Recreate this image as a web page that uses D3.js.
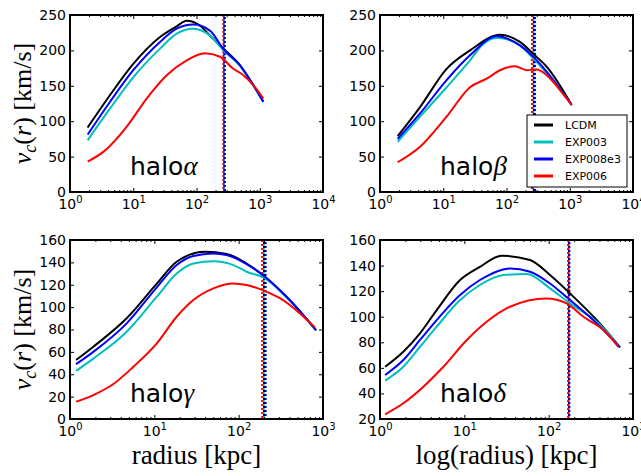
<!DOCTYPE html>
<html>
<head>
<meta charset="utf-8">
<script src="https://cdn.jsdelivr.net/npm/d3@7"></script>
<style>
  body { margin: 0; background: #fff; }
</style>
</head>
<body>
<svg id="chart" width="641" height="476" font-family="DejaVu Sans, sans-serif"></svg>
<script>
'use strict';

// series: [radius (kpc), v_c (km/s)]
const models = ['LCDM', 'EXP003', 'EXP008e3', 'EXP006'];
const colors = ['#000000', '#00bfbf', '#0000ff', '#ff0000'];

const alphaLCDM = [[1.9, 91], [4.3, 137], [10, 181], [26.5, 219], [48.6, 234], [70, 242], [114, 235], [163, 221], [266, 202.5], [488, 179], [791, 151], [1138, 127.5]];
const alphaEXP003 = [[1.9, 73], [4.3, 118], [10, 162], [26.5, 202.5], [48.6, 223.6], [89, 230.6], [163, 221], [266, 200], [488, 178], [791, 150], [1138, 127]];
const alphaEXP008e3 = [[1.9, 81], [4.3, 127.5], [10, 172], [26.5, 212], [48.6, 230.6], [89, 236.7], [163, 228], [266, 202], [488, 179], [791, 151], [1138, 127.5]];
const alphaEXP006 = [[1.9, 43], [3.4, 57], [7.9, 92.5], [16.3, 132], [33.8, 165], [70, 186], [136, 196], [235, 191], [382, 174], [550, 165], [791, 151], [1138, 132]];
const alphaRvir = [275, 272, 281, 266];

const betaLCDM = [[1.9, 79], [4.3, 120], [11.3, 174], [26.5, 200], [79, 222], [163, 212], [266, 195], [431, 177], [1072, 123]];
const betaEXP003 = [[1.9, 71], [4.3, 106.5], [11.3, 148], [26.5, 186], [43, 209], [70, 218], [163, 207], [266, 188.5], [431, 168], [1072, 123]];
const betaEXP008e3 = [[1.9, 75], [4.3, 111], [11.3, 158], [26.5, 193], [70, 220], [163, 207], [266, 191], [431, 170], [1072, 123]];
const betaEXP006 = [[1.9, 42], [4.3, 64], [11.3, 106.5], [26.5, 148], [48.6, 160], [79, 172], [136, 177.7], [208, 172], [300, 173], [431, 165], [701, 144], [1072, 123]];
const betaRvir = [270, 268, 282, 252];

const gammaLCDM = [[1.18, 52.7], [1.89, 64.6], [4.7, 90], [10.7, 121], [18.4, 140.6], [39.9, 149.5], [72.1, 147.5], [124, 139], [206, 127], [372, 109], [826, 79.5]];
const gammaEXP003 = [[1.18, 43], [1.89, 54], [4.7, 78], [10.7, 109.3], [18.4, 130], [29, 139], [50.1, 141], [86.5, 137.6], [124, 131.6], [206, 125.7], [372, 108.5], [826, 79]];
const gammaEXP008e3 = [[1.18, 49], [1.89, 60], [4.7, 85.5], [10.7, 117.7], [18.4, 137.6], [29, 145.7], [50.1, 148], [72.1, 146.6], [124, 138.5], [206, 127], [372, 109], [826, 79.5]];
const gammaEXP006 = [[1.18, 15.5], [1.89, 21.4], [3.27, 31.3], [5.64, 46.7], [10.7, 67.6], [18.4, 91.4], [29, 106.3], [50.1, 116.8], [86.5, 121.2], [124, 119.7], [215, 113.7], [309, 108], [533, 94.4], [800, 82]];
const gammaRvir = [200, 198, 209, 190];

const deltaLCDM = [[1.15, 60.9], [1.89, 72.6], [2.98, 87], [4.7, 105.2], [8.9, 128.7], [15.3, 139], [27.7, 147.7], [60.1, 144.3], [103.7, 132.6], [179, 118.2], [371, 97.4], [701, 76]];
const deltaEXP003 = [[1.15, 50], [1.89, 60.9], [2.98, 76.5], [4.7, 92.2], [8.9, 113], [15.3, 124.8], [29, 132.6], [54.8, 133.4], [103.7, 122.2], [179, 110.4], [371, 96], [701, 76]];
const deltaEXP008e3 = [[1.15, 54.4], [1.89, 66.1], [2.98, 81.8], [4.7, 97.4], [8.9, 117], [15.3, 128.7], [34.8, 137.8], [60.1, 135.2], [103.7, 126], [179, 113], [371, 94.8], [701, 76]];
const deltaEXP006 = [[1.15, 23.7], [1.89, 32.3], [3.27, 45.3], [5.64, 60.9], [10.7, 81.8], [18.4, 96], [34.8, 107.8], [94.6, 114.3], [163, 110.5], [258, 100], [445, 89.6], [670, 76.5]];
const deltaRvir = [174, 173, 176, 170];

const topXTicks = [1, 10, 100, 1000, 10000];
const bottomXTicks = [1, 10, 100, 1000];
const topYTicks = [0, 50, 100, 150, 200, 250];
const gammaYTicks = [0, 20, 40, 60, 80, 100, 120, 140, 160];
const deltaYTicks = [20, 40, 60, 80, 100, 120, 140, 160];

const panels = [
    { greek: 'α', series: [alphaLCDM, alphaEXP003, alphaEXP008e3, alphaEXP006], rvir: alphaRvir,
      x0: 70, x1: 323, y0: 15, y1: 192, xTicks: topXTicks, yTicks: topYTicks, ylabel: true },
    { greek: 'β', series: [betaLCDM, betaEXP003, betaEXP008e3, betaEXP006], rvir: betaRvir,
      x0: 380, x1: 633, y0: 15, y1: 192, xTicks: topXTicks, yTicks: topYTicks, legend: true },
    { greek: 'γ', series: [gammaLCDM, gammaEXP003, gammaEXP008e3, gammaEXP006], rvir: gammaRvir,
      x0: 70, x1: 323, y0: 240, y1: 419, xTicks: bottomXTicks, yTicks: gammaYTicks, ylabel: true, xlabel: 'radius [kpc]' },
    { greek: 'δ', series: [deltaLCDM, deltaEXP003, deltaEXP008e3, deltaEXP006], rvir: deltaRvir,
      x0: 380, x1: 633, y0: 240, y1: 419, xTicks: bottomXTicks, yTicks: deltaYTicks, xlabel: 'log(radius) [kpc]' }
];

const svg = d3.select('#chart');
const serif = 'Liberation Serif, serif';

function minorTicks(domain) {
    const out = [];
    for (let p = domain[0]; p < domain[1]; p *= 10) {
        for (let k = 2; k < 10; k++) out.push(p * k);
    }
    return out;
}

function styleAxis(sel) {
    sel.select('.domain').remove();
    sel.attr('font-family', null).attr('font-size', null);
    sel.selectAll('.tick line').attr('stroke', '#000').attr('stroke-width', 1);
    sel.selectAll('.tick text').attr('fill', '#000').attr('font-size', 14);
}

function drawPanel(p) {
    const xDomain = [p.xTicks[0], p.xTicks[p.xTicks.length - 1]];
    const yDomain = [p.yTicks[0], p.yTicks[p.yTicks.length - 1]];
    const x = d3.scaleLog().domain(xDomain).range([p.x0, p.x1]);
    const y = d3.scaleLinear().domain(yDomain).range([p.y1, p.y0]);
    const g = svg.append('g');

    const line = d3.line()
        .x(d => x(d[0]))
        .y(d => y(d[1]))
        .curve(d3.curveMonotoneX);

    // virial radius markers
    p.rvir.forEach((r, i) => {
        g.append('line')
            .attr('x1', x(r)).attr('x2', x(r))
            .attr('y1', p.y0).attr('y2', p.y1)
            .attr('stroke', colors[i])
            .attr('stroke-width', 2)
            .attr('stroke-dasharray', '2,2')
            .attr('stroke-dashoffset', i % 2 ? 0 : 2);
    });

    p.series.forEach((s, i) => {
        g.append('path')
            .attr('d', line(s))
            .attr('fill', 'none')
            .attr('stroke', colors[i])
            .attr('stroke-width', 2)
            .attr('stroke-linejoin', 'round');
    });

    // axes: ticks point inward on all four sides
    const minors = minorTicks(xDomain);
    g.append('g').attr('transform', `translate(0,${p.y1})`)
        .call(d3.axisBottom(x).tickValues(minors).tickSize(-2).tickFormat(''))
        .call(styleAxis);
    g.append('g').attr('transform', `translate(0,${p.y0})`)
        .call(d3.axisTop(x).tickValues(minors).tickSize(-2).tickFormat(''))
        .call(styleAxis);
    g.append('g').attr('transform', `translate(0,${p.y0})`)
        .call(d3.axisTop(x).tickValues(p.xTicks).tickSize(-4).tickFormat(''))
        .call(styleAxis);

    const xb = g.append('g').attr('transform', `translate(0,${p.y1})`)
        .call(d3.axisBottom(x).tickValues(p.xTicks).tickSize(-4).tickPadding(7))
        .call(styleAxis);
    xb.selectAll('.tick text').text(null).each(function (d) {
        const t = d3.select(this);
        t.append('tspan').text('10');
        t.append('tspan').attr('dy', -6).attr('font-size', 10).text(Math.round(Math.log10(d)));
    });

    g.append('g').attr('transform', `translate(${p.x0},0)`)
        .call(d3.axisLeft(y).tickValues(p.yTicks).tickSize(-4).tickPadding(4).tickFormat(d3.format('d')))
        .call(styleAxis);
    g.append('g').attr('transform', `translate(${p.x1},0)`)
        .call(d3.axisRight(y).tickValues(p.yTicks).tickSize(-4).tickFormat(''))
        .call(styleAxis);

    g.append('rect')
        .attr('x', p.x0).attr('y', p.y0)
        .attr('width', p.x1 - p.x0).attr('height', p.y1 - p.y0)
        .attr('fill', 'none').attr('stroke', '#000').attr('stroke-width', 2);

    const hl = g.append('text')
        .attr('x', p.x0 + 60).attr('y', p.y1 - 17)
        .attr('font-size', 25);
    hl.append('tspan').text('halo');
    hl.append('tspan').attr('font-family', serif).attr('font-style', 'italic').attr('font-size', 27).text(p.greek);

    if (p.ylabel) {
        const yl = g.append('text')
            .attr('transform', `translate(31,${(p.y0 + p.y1) / 2}) rotate(-90)`)
            .attr('text-anchor', 'middle')
            .attr('font-family', serif)
            .attr('font-size', 26);
        yl.append('tspan').attr('font-style', 'italic').text('v');
        yl.append('tspan').attr('font-style', 'italic').attr('font-size', 18).attr('dy', 5).text('c');
        yl.append('tspan').attr('dy', -5).text('(');
        yl.append('tspan').attr('font-style', 'italic').text('r');
        yl.append('tspan').text(') [km/s]');
    }

    if (p.xlabel) {
        g.append('text')
            .attr('x', (p.x0 + p.x1) / 2).attr('y', 464)
            .attr('text-anchor', 'middle')
            .attr('font-family', serif)
            .attr('font-size', 27)
            .text(p.xlabel);
    }

    if (p.legend) {
        const lg = g.append('g').attr('transform', 'translate(527,115)');
        lg.append('rect').attr('width', 100).attr('height', 72)
            .attr('fill', '#fff').attr('stroke', '#000').attr('stroke-width', 1);
        models.forEach((m, i) => {
            const yy = 10 + i * 17;
            lg.append('line').attr('x1', 7).attr('x2', 26).attr('y1', yy).attr('y2', yy)
                .attr('stroke', colors[i]).attr('stroke-width', 3);
            lg.append('text').attr('x', 38).attr('y', yy + 4).attr('font-size', 11).text(m);
        });
    }
}

panels.forEach(drawPanel);
</script>
</body>
</html>
